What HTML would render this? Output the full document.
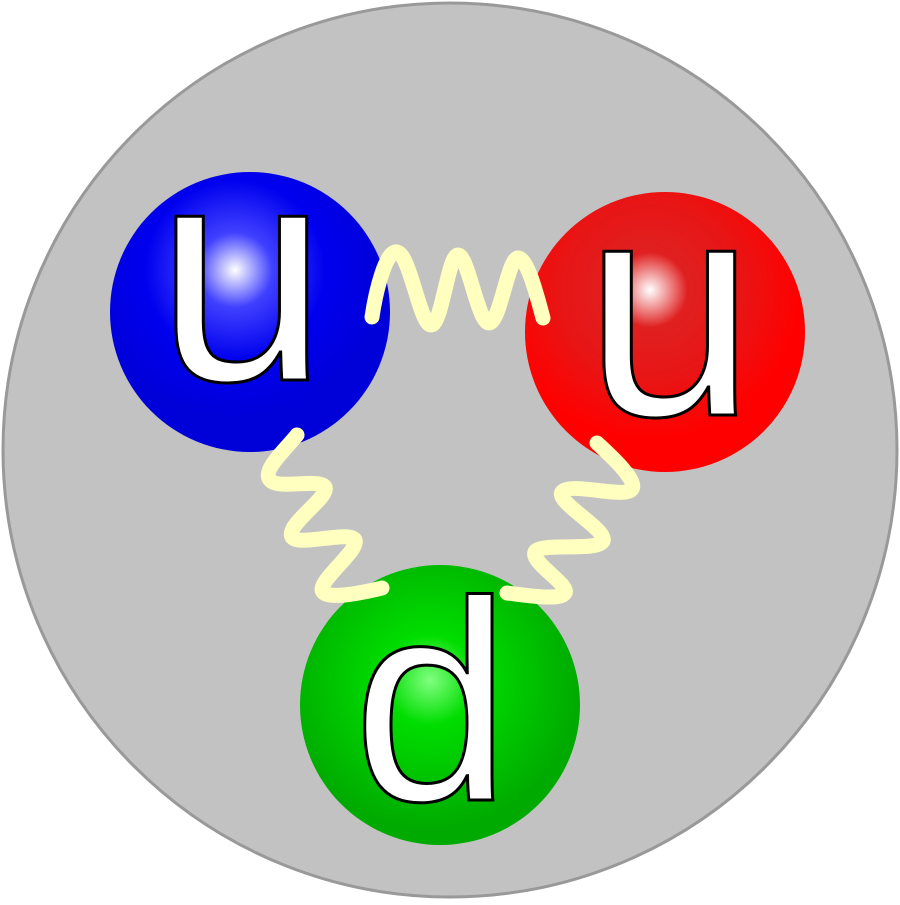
<!DOCTYPE html>
<html><head><style>html,body{margin:0;padding:0;background:#fff}</style></head>
<body>
<svg width="900" height="900" viewBox="0 0 900 900" xmlns="http://www.w3.org/2000/svg">
<defs>
<radialGradient id="gb" cx="235" cy="270" r="150" gradientUnits="userSpaceOnUse">
<stop offset="0" stop-color="#ffffff"/><stop offset="0.25" stop-color="#4040ff"/><stop offset="0.6" stop-color="#0000ee"/><stop offset="1" stop-color="#0000d8"/></radialGradient>
<radialGradient id="gr" cx="650" cy="290" r="150" gradientUnits="userSpaceOnUse">
<stop offset="0" stop-color="#ffffff"/><stop offset="0.25" stop-color="#e02020"/><stop offset="0.6" stop-color="#e81515"/><stop offset="1" stop-color="#ff0000"/></radialGradient>
<radialGradient id="gg" cx="430" cy="680" r="150" gradientUnits="userSpaceOnUse">
<stop offset="0" stop-color="#80ff80"/><stop offset="0.3" stop-color="#00dd00"/><stop offset="1" stop-color="#00aa00"/></radialGradient>
</defs>
<circle cx="450" cy="450" r="447" fill="#c2c2c2" stroke="#999" stroke-width="3"/>
<circle cx="250" cy="312" r="140" fill="url(#gb)"/>
<circle cx="665" cy="332" r="140" fill="url(#gr)"/>
<circle cx="440" cy="705" r="140" fill="url(#gg)"/>
<g fill="none" stroke="#ffffc0" stroke-width="15" stroke-linecap="round" stroke-linejoin="round">
<path d="M372,317 C376,290 386,250 397,252 C410,254 420,325 431,325 C442,325 448,255 458,255 C468,255 478,323 489,323 C500,323 508,258 518,258 C528,258 538,300 543,318"/>
<path d="M297,435 C285,450 262,470 270,480 C278,490 320,478 325,487 C330,497 285,525 292,537 C298,547 350,530 355,540 C360,550 315,583 323,592 C330,600 365,592 382,588"/>
<path d="M597,443 C610,455 640,482 631,490 C622,498 570,482 562,492 C555,502 608,530 603,541 C598,552 540,542 535,552 C530,562 570,585 565,593 C560,601 525,595 507,593"/>
</g>
<g font-family="Liberation Sans, sans-serif" fill="#fff" stroke="#000" stroke-width="3" text-anchor="middle">
<text x="242" y="380" font-size="310">u</text>
<text x="670" y="415" font-size="310">u</text>
<text x="432" y="800" font-size="285">d</text>
</g>
</svg>
</body></html>
